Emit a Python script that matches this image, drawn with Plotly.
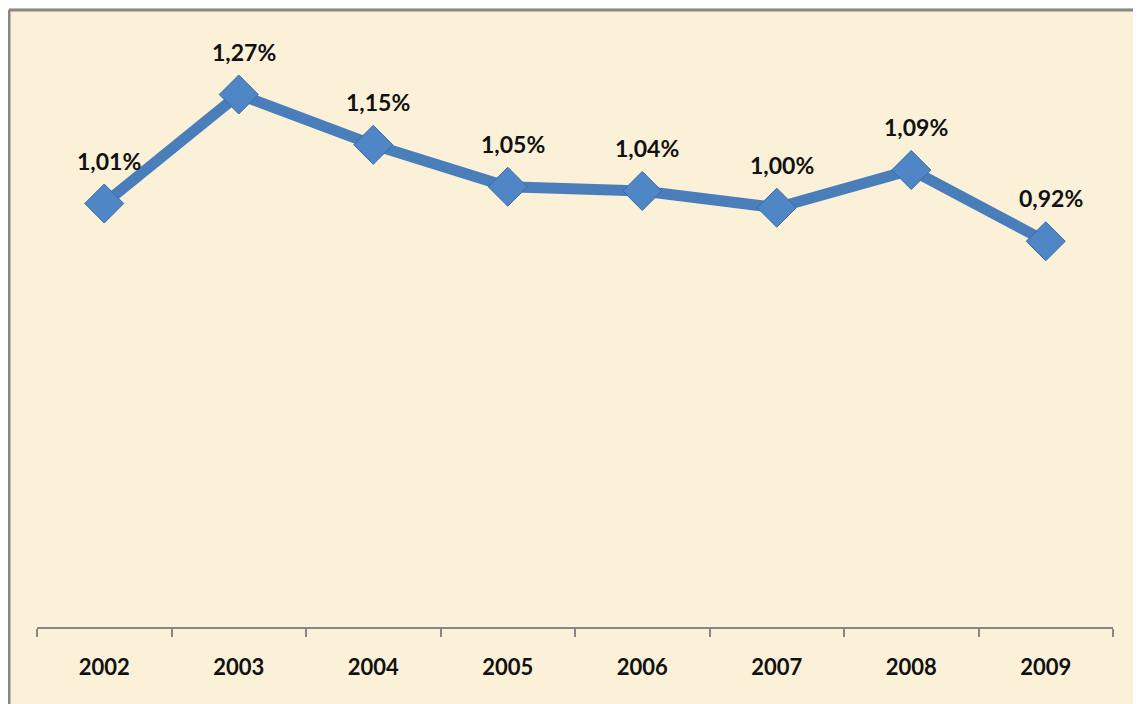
import plotly.graph_objects as go

years = ["2002", "2003", "2004", "2005", "2006", "2007", "2008", "2009"]
values = [1.01, 1.27, 1.15, 1.05, 1.04, 1.00, 1.09, 0.92]

labels = [f"{v:.2f}".replace(".", ",") + "%" for v in values]

L, R, T, B = 29, 36, 32, 85
W, H = 1141, 704
pw, ph = W - L - R, H - T - B

fig = go.Figure()
fig.add_trace(go.Scatter(
    x=years, y=values, mode="lines+markers",
    line=dict(color="#4A7EBB", width=11),
    marker=dict(symbol="diamond", size=30, color="#4F86C6",
                line=dict(color="#3A6AA6", width=1)),
    hoverinfo="skip", showlegend=False,
))

for i, (y, t) in enumerate(zip(values, labels)):
    fig.add_annotation(x=i, y=y, text=t, showarrow=False, yshift=43, xshift=5,
                       font=dict(family="Lato", size=23, color="#111111", weight="bold"))

bx = (1 - L) / pw
by = (H - 2 - B) / ph
fig.update_layout(
    width=W, height=H,
    margin=dict(l=L, r=R, t=T, b=B),
    paper_bgcolor="#FBF0D8", plot_bgcolor="rgba(0,0,0,0)",
    xaxis=dict(type="category", range=[-0.5, len(years) - 0.5],
               showline=True, linecolor="#878787", linewidth=1.5,
               ticks="outside", tickson="boundaries", ticklen=8, tickcolor="#878787",
               tickwidth=1.5, showgrid=False, ticklabelstandoff=20,
               tickfont=dict(family="Lato", size=22, color="#111111", weight="bold")),
    yaxis=dict(range=[0, 1.4], visible=False, showgrid=False),
    shapes=[
        dict(type="line", xref="paper", yref="paper", x0=bx, x1=bx, y0=-0.2, y1=by,
             line=dict(color="#888888", width=3)),
        dict(type="line", xref="paper", yref="paper", x0=bx, x1=1.1, y0=by, y1=by,
             line=dict(color="#888888", width=3)),
    ],
)

fig.write_html("out.html")
